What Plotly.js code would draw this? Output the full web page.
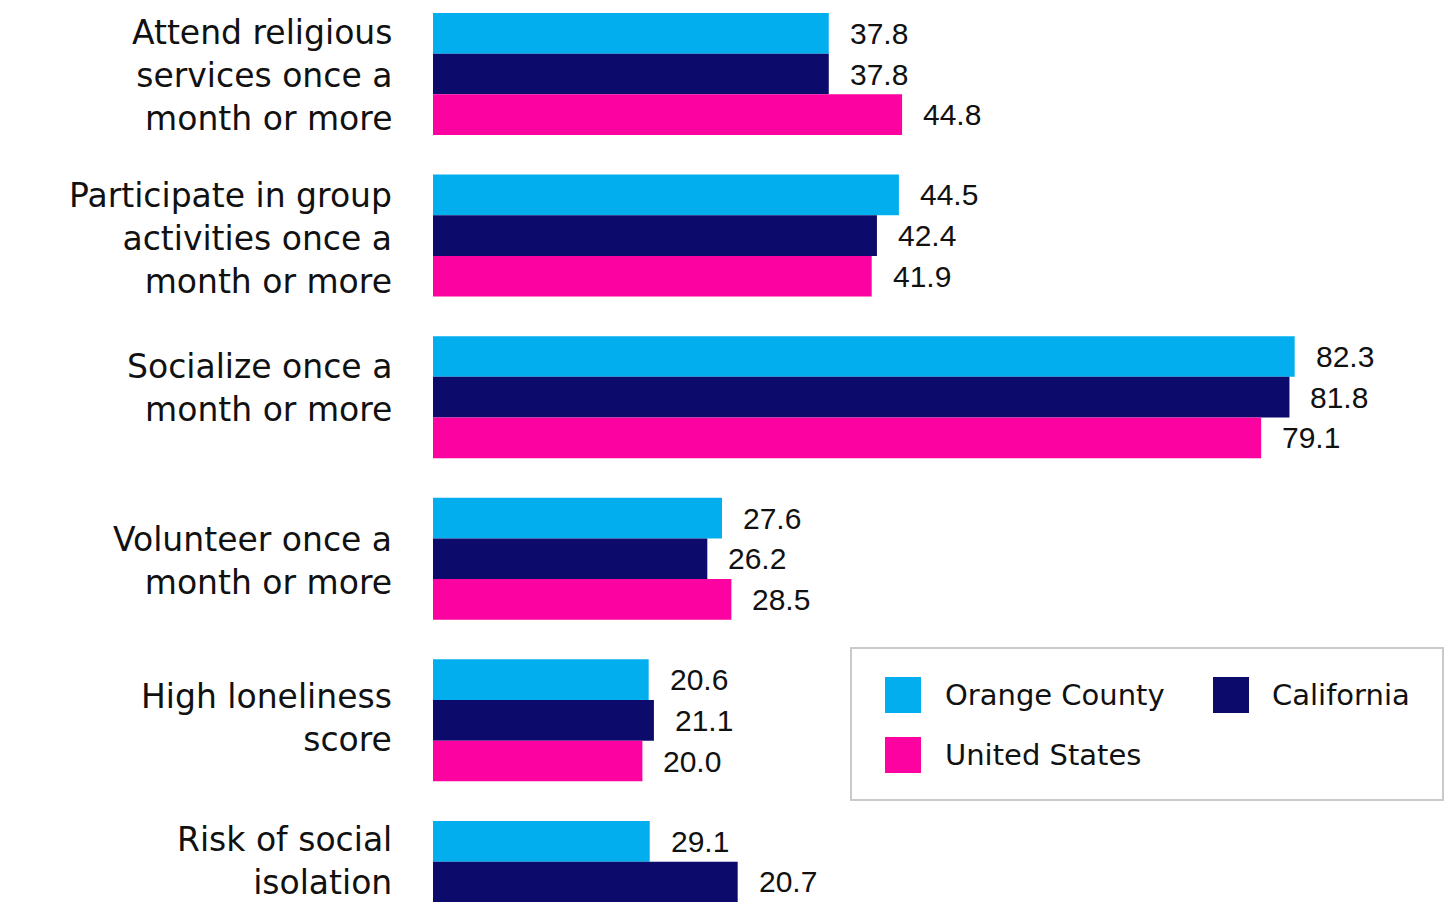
<!DOCTYPE html>
<html>
<head>
<meta charset="utf-8">
<script src="https://cdn.plot.ly/plotly-3.0.1.min.js"></script>
<style>
html, body { margin: 0; padding: 0; background: #ffffff; overflow: hidden; }
#chart { width: 1456px; height: 902px; }
</style>
</head>
<body>
<div id="chart"></div>
<script>
// ---- data ----
const categories = [
  "Attend religious<br>services once a<br>month or more",
  "Participate in group<br>activities once a<br>month or more",
  "Socialize once a<br>month or more",
  "Volunteer once a<br>month or more",
  "High loneliness<br>score",
  "Risk of social<br>isolation"
];
const seriesNames = ["Orange County", "California", "United States"];
const orangeCounty = [37.8, 44.5, 82.3, 27.6, 20.6, 20.7];
const california   = [37.8, 42.4, 81.8, 26.2, 21.1, 29.1];
const unitedStates = [44.8, 41.9, 79.1, 28.5, 20.0, null];
const orangeCountyLabels = ["37.8", "44.5", "82.3", "27.6", "20.6", "29.1"];
const californiaLabels   = ["37.8", "42.4", "81.8", "26.2", "21.1", "20.7"];
const unitedStatesLabels = ["44.8", "41.9", "79.1", "28.5", "20.0", ""];

// ---- style ----
const colors = ["#03AEEF", "#0C0A6B", "#FC02A1"];
const LABEL_FONT = "'DejaVu Sans', sans-serif";
const VALUE_FONT = "'Liberation Sans', Arial, sans-serif";
const TEXT_COLOR = "#111111";
const W = 1456, H = 902, ML = 433;
const plotW = W - ML;
const pxPerValue = 10.47;
const yRange = [5.124, -0.458];
const bargap = 0.245;
// vertical nudges (px, up) for the category labels, as placed in the reference
const labelNudge = [-1, -3, 9, -2, 2, 21];

const seriesValues = [orangeCounty, california, unitedStates];
const seriesLabels = [orangeCountyLabels, californiaLabels, unitedStatesLabels];

const traces = seriesValues.map((vals, s) => ({
  type: "bar",
  orientation: "h",
  name: seriesNames[s],
  y: categories,
  x: vals,
  marker: { color: colors[s], line: { width: 0 } },
  hoverinfo: "x+name",
  showlegend: false
}));

const pxPerCat = H / (yRange[0] - yRange[1]);
const barW = (1 - bargap) / 3;
const annotations = [];

// value labels
seriesValues.forEach((vals, s) => {
  vals.forEach((v, i) => {
    if (v === null || !seriesLabels[s][i]) return;
    annotations.push({
      x: v, y: categories[i], xref: "x", yref: "y",
      text: seriesLabels[s][i], showarrow: false,
      xanchor: "left", yanchor: "middle",
      xshift: 19, yshift: -(s - 1) * barW * pxPerCat,
      font: { family: VALUE_FONT, size: 30, color: TEXT_COLOR }
    });
  });
});

// category labels
categories.forEach((c, i) => {
  annotations.push({
    x: 0, y: c, xref: "paper", yref: "y",
    text: c, showarrow: false, align: "right",
    xanchor: "right", yanchor: "middle",
    xshift: -39, yshift: labelNudge[i],
    font: { family: LABEL_FONT, size: 33, color: TEXT_COLOR }
  });
});

// legend drawn as paper-referenced shapes + text
const px2x = px => (px - ML) / plotW;
const px2y = py => 1 - py / H;
const legendItems = [
  { name: seriesNames[0], sx: 885, sy: 677, tx: 943 },
  { name: seriesNames[1], sx: 1213, sy: 677, tx: 1270 },
  { name: seriesNames[2], sx: 885, sy: 737, tx: 943 }
];
const shapes = [{
  type: "rect", xref: "paper", yref: "paper",
  x0: px2x(851), x1: px2x(1443), y0: px2y(800), y1: px2y(648),
  line: { color: "#cacaca", width: 2 }, fillcolor: "rgba(0,0,0,0)"
}];
legendItems.forEach((it, s) => {
  shapes.push({
    type: "rect", xref: "paper", yref: "paper",
    x0: px2x(it.sx), x1: px2x(it.sx + 36), y0: px2y(it.sy + 36), y1: px2y(it.sy),
    line: { width: 0 }, fillcolor: colors[s]
  });
  annotations.push({
    xref: "paper", yref: "paper", x: px2x(it.tx), y: px2y(it.sy + 18),
    text: it.name, showarrow: false, xanchor: "left", yanchor: "middle",
    font: { family: LABEL_FONT, size: 29, color: TEXT_COLOR }
  });
});

const layout = {
  width: W, height: H,
  margin: { l: ML, r: 0, t: 0, b: 0, pad: 0 },
  paper_bgcolor: "#ffffff", plot_bgcolor: "#ffffff",
  barmode: "group", bargap: bargap, bargroupgap: 0,
  showlegend: false,
  xaxis: { range: [0, plotW / pxPerValue], visible: false, showgrid: false, zeroline: false },
  yaxis: {
    type: "category", range: yRange, ticks: "", showline: false, showgrid: false, zeroline: false,
    showticklabels: false
  },
  shapes: shapes,
  annotations: annotations,
  font: { family: LABEL_FONT }
};

Plotly.newPlot("chart", traces, layout, { displayModeBar: false, staticPlot: true });
</script>
</body>
</html>
